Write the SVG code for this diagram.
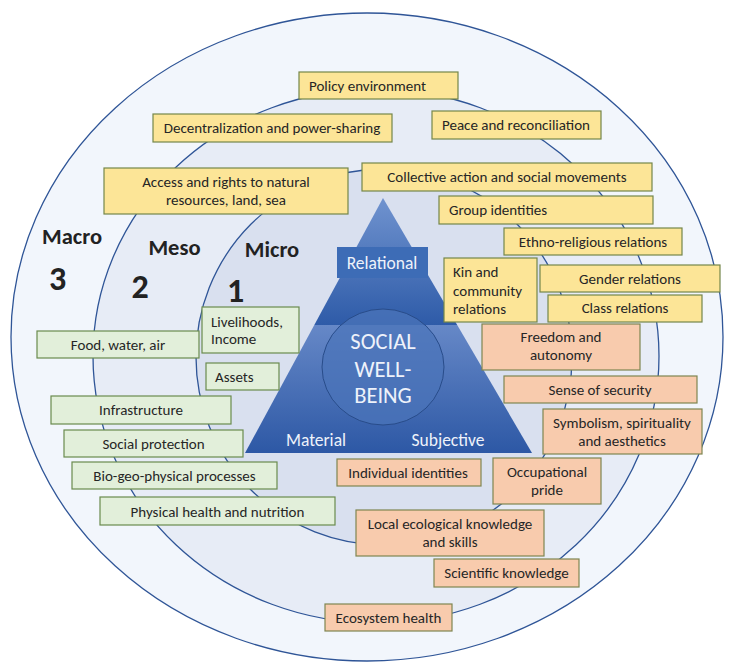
<svg xmlns="http://www.w3.org/2000/svg" width="729" height="662" viewBox="0 0 729 662">
  <defs>
    <linearGradient id="gradTop" x1="0" y1="0" x2="0" y2="1">
      <stop offset="0" stop-color="#7093cf"/>
      <stop offset="1" stop-color="#2e5ba8"/>
    </linearGradient>
    <linearGradient id="gradBase" x1="0" y1="0" x2="0" y2="1">
      <stop offset="0" stop-color="#6688c7"/>
      <stop offset="1" stop-color="#2d58a5"/>
    </linearGradient>
    <style>
      .ring { stroke: #2f5597; stroke-width: 1.3; }
      .box { stroke-width: 1.2; }
      .yel { fill: #fce597; stroke: #74864a; }
      .org { fill: #f8cbad; stroke: #7f8550; }
      .grn { fill: #e2efda; stroke: #6a8a4e; }
      .t { font-family: Calibri, Carlito, "Liberation Sans", Arial, sans-serif; font-size: 15px; fill: #262626; }
      .c { text-anchor: middle; }
      .lvl { font-family: Calibri, Carlito, "Liberation Sans", Arial, sans-serif; font-weight: bold; fill: #222; text-anchor: middle; }
      .w { font-family: Calibri, Carlito, "Liberation Sans", Arial, sans-serif; fill: #eef2fa; text-anchor: middle; }
    </style>
  </defs>

  <!-- concentric levels: macro, meso, micro -->
  <g id="rings">
    <ellipse class="ring" cx="367" cy="337" rx="356" ry="324" fill="#f2f6fc"/>
    <ellipse class="ring" cx="376" cy="356" rx="283" ry="267" fill="#e7ecf6"/>
    <circle class="ring" cx="384" cy="357" r="188" fill="#d9e0ef"/>
  </g>

  <!-- level labels -->
  <g id="levels">
    <text class="lvl" x="72" y="244" font-size="22.5">Macro</text>
    <text class="lvl" x="57.5" y="290" font-size="34">3</text>
    <text class="lvl" x="174.5" y="255" font-size="22.5">Meso</text>
    <text class="lvl" x="140" y="298" font-size="34">2</text>
    <text class="lvl" x="272" y="257" font-size="22.5">Micro</text>
    <text class="lvl" x="235.5" y="302" font-size="34">1</text>
  </g>

  <!-- central pyramid -->
  <g id="pyramid">
    <polygon points="383,198 457.2,325 314.3,325" fill="url(#gradTop)"/>
    <polygon points="314.3,325 457.2,325 532,453 245,453" fill="url(#gradBase)"/>
    <rect x="337" y="247" width="91" height="31" fill="#3d6cb6"/>
    <text class="w" x="382" y="268.5" font-size="17.5">Relational</text>
    <ellipse cx="383" cy="367" rx="61" ry="58" fill="#4b74ba" fill-opacity="0.75" stroke="#284c8a" stroke-width="1"/>
    <text class="w" x="383" y="348.5" font-size="22.5">SOCIAL</text>
    <text class="w" x="383" y="377" font-size="22.5">WELL-</text>
    <text class="w" x="383" y="402.5" font-size="22.5">BEING</text>
    <text class="w" x="316" y="446" font-size="17.5">Material</text>
    <text class="w" x="448" y="446" font-size="17.5">Subjective</text>
  </g>

  <!-- relational dimension -->
  <g id="policy"><rect class="box yel" x="299" y="72" width="159" height="27"/><text class="t" x="309" y="90.5">Policy environment</text></g>
  <g id="decentralization"><rect class="box yel" x="153" y="114" width="239" height="28"/><text class="t c" x="272" y="133">Decentralization and power-sharing</text></g>
  <g id="peace"><rect class="box yel" x="432" y="111" width="169" height="28"/><text class="t c" x="516" y="130">Peace and reconciliation</text></g>
  <g id="access"><rect class="box yel" x="104" y="168" width="244" height="46"/><text class="t c" x="226" y="187">Access and rights to natural</text><text class="t c" x="226" y="205">resources, land, sea</text></g>
  <g id="collective"><rect class="box yel" x="362" y="163" width="290" height="28"/><text class="t c" x="507" y="182">Collective action and social movements</text></g>
  <g id="group"><rect class="box yel" x="439" y="196" width="214" height="28"/><text class="t" x="449" y="215">Group identities</text></g>
  <g id="ethno"><rect class="box yel" x="504" y="228" width="178" height="27"/><text class="t c" x="593" y="246.5">Ethno-religious relations</text></g>
  <g id="kin"><rect class="box yel" x="444" y="258" width="93" height="64"/><text class="t" x="453" y="277">Kin and</text><text class="t" x="453" y="295.5">community</text><text class="t" x="453" y="314">relations</text></g>
  <g id="gender"><rect class="box yel" x="540" y="265" width="180" height="27"/><text class="t c" x="630" y="283.5">Gender relations</text></g>
  <g id="class"><rect class="box yel" x="548" y="295" width="154" height="27"/><text class="t c" x="625" y="313">Class relations</text></g>

  <!-- subjective dimension -->
  <g id="freedom"><rect class="box org" x="482" y="324" width="158" height="46"/><text class="t c" x="561" y="342">Freedom and</text><text class="t c" x="561" y="360">autonomy</text></g>
  <g id="security"><rect class="box org" x="504" y="376" width="193" height="27"/><text class="t c" x="600" y="394.5">Sense of security</text></g>
  <g id="symbolism"><rect class="box org" x="543" y="409" width="159" height="45"/><text class="t c" x="622" y="428">Symbolism, spirituality</text><text class="t c" x="622" y="446">and aesthetics</text></g>
  <g id="individual"><rect class="box org" x="337" y="459" width="144" height="27"/><text class="t c" x="408" y="477.5">Individual identities</text></g>
  <g id="occupational"><rect class="box org" x="493" y="458" width="108" height="46"/><text class="t c" x="547" y="477">Occupational</text><text class="t c" x="547" y="494.5">pride</text></g>
  <g id="local-knowledge"><rect class="box org" x="356" y="510" width="188" height="46"/><text class="t c" x="450" y="529">Local ecological knowledge</text><text class="t c" x="450" y="547">and skills</text></g>
  <g id="scientific"><rect class="box org" x="434" y="559" width="145" height="28"/><text class="t c" x="506.5" y="578">Scientific knowledge</text></g>
  <g id="ecosystem"><rect class="box org" x="325" y="604" width="127" height="27"/><text class="t c" x="388.5" y="622.5">Ecosystem health</text></g>

  <!-- material dimension -->
  <g id="food"><rect class="box grn" x="37" y="331" width="162" height="27"/><text class="t c" x="118" y="350">Food, water, air</text></g>
  <g id="livelihoods"><rect class="box grn" x="202" y="307" width="97" height="46"/><text class="t" x="211" y="327">Livelihoods,</text><text class="t" x="211" y="344">Income</text></g>
  <g id="assets"><rect class="box grn" x="206" y="363" width="73" height="27"/><text class="t" x="215" y="382">Assets</text></g>
  <g id="infrastructure"><rect class="box grn" x="51" y="396" width="180" height="28"/><text class="t c" x="141" y="415">Infrastructure</text></g>
  <g id="social-protection"><rect class="box grn" x="64" y="430" width="179" height="27"/><text class="t c" x="153.5" y="449">Social protection</text></g>
  <g id="bio-geo"><rect class="box grn" x="72" y="462" width="205" height="27"/><text class="t c" x="174.5" y="481">Bio-geo-physical processes</text></g>
  <g id="physical-health"><rect class="box grn" x="100" y="497" width="235" height="28"/><text class="t c" x="217.5" y="516.5">Physical health and nutrition</text></g>
</svg>
